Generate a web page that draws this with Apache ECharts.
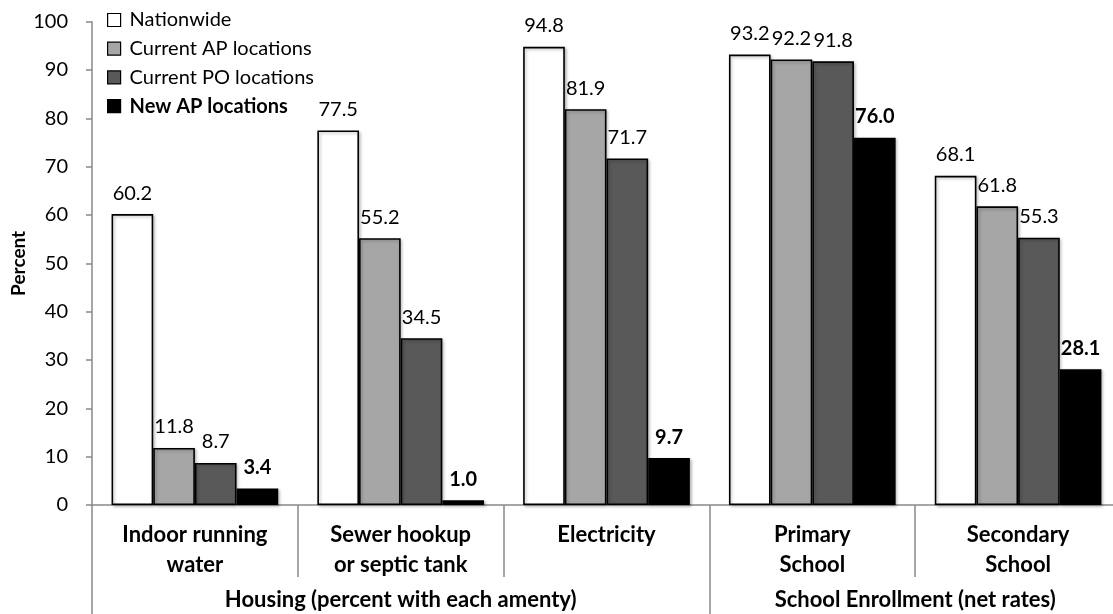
<!DOCTYPE html>
<html>
<head>
<meta charset="utf-8">
<title>Housing amenities and school enrollment</title>
<script src="https://cdn.jsdelivr.net/npm/echarts@6/dist/echarts.min.js"></script>
<style>
  html, body { margin: 0; padding: 0; background: #fff; }
  #chart { width: 1113px; height: 614px; }
</style>
</head>
<body>
<div id="chart"></div>
<script>
// Categories and groups shown on the two-level x axis
const categories = [
  'Indoor running\nwater',
  'Sewer hookup\nor septic tank',
  'Electricity',
  'Primary\nSchool',
  'Secondary\nSchool'
];
const groupNames = ['Housing (percent with each amenty)', 'School Enrollment (net rates)'];
const groupSpans = [3, 2];

// Series values (percent)
const nationwide = [60.2, 77.5, 94.8, 93.2, 68.1];
const currentAP = [11.8, 55.2, 81.9, 92.2, 61.8];
const currentPO = [8.7, 34.5, 71.7, 91.8, 55.3];
const newAP = [3.4, 1.0, 9.7, 76.0, 28.1];

const seriesNames = ['Nationwide', 'Current AP locations', 'Current PO locations', 'New AP locations'];
const seriesValues = [nationwide, currentAP, currentPO, newAP];
const seriesColors = ['#ffffff', '#a6a6a6', '#595959', '#000000'];
const boldSeries = [false, false, false, true];

const yTicks = [0, 10, 20, 30, 40, 50, 60, 70, 80, 90, 100];

const FONT = 'Lato, "Open Sans", sans-serif';
const AXIS_GRAY = '#898989';
const TEXT_SIZE = 20;
const BOLD_SIZE = 22;

// Group boundaries and centres in category units
const groupEdges = [0];
const groupMids = [];
groupSpans.forEach((s, i) => {
  groupMids.push(groupEdges[i] + s / 2);
  groupEdges.push(groupEdges[i] + s);
});

const chart = echarts.init(document.getElementById('chart'), null, { renderer: 'canvas' });

const series = seriesValues.map((vals, i) => ({
  name: seriesNames[i],
  type: 'bar',
  xAxisIndex: 0,
  yAxisIndex: 0,
  data: vals,
  barGap: '0%',
  barCategoryGap: '19%',
  itemStyle: {
    color: seriesColors[i],
    borderColor: '#000',
    borderWidth: 1.6,
    shadowColor: 'rgba(0,0,0,0.25)',
    shadowBlur: 3,
    shadowOffsetX: 1.5,
    shadowOffsetY: 1.5
  },
  label: {
    show: true,
    position: 'top',
    distance: 11,
    formatter: p => p.value.toFixed(1),
    fontFamily: FONT,
    fontSize: TEXT_SIZE,
    fontWeight: boldSeries[i] ? 'bold' : 'normal',
    color: '#000'
  },
  emphasis: { disabled: true }
}));

chart.setOption({
  animation: false,
  backgroundColor: '#fff',
  textStyle: { fontFamily: FONT },
  grid: {
    left: 92, right: -8, top: 21.7, bottom: 109,
    containLabel: false,
    outerBoundsMode: 'none'
  },
  legend: {
    orient: 'vertical',
    left: 102,
    top: 5,
    itemWidth: 13,
    itemHeight: 13,
    itemGap: 8.7,
    icon: 'rect',
    data: seriesNames.map((n, i) => ({
      name: n,
      textStyle: { fontWeight: boldSeries[i] ? 'bold' : 'normal' }
    })),
    textStyle: {
      fontFamily: FONT,
      fontSize: TEXT_SIZE,
      color: '#000',
      lineHeight: 20,
      padding: [0, 0, 0, 4]
    },
    itemStyle: { borderColor: '#000', borderWidth: 1.2, shadowBlur: 0, shadowOffsetX: 0, shadowOffsetY: 0 }
  },
  xAxis: [
    {
      type: 'category',
      data: categories,
      position: 'bottom',
      axisLine: { lineStyle: { color: AXIS_GRAY, width: 1.5 } },
      axisTick: { show: true, interval: 0, alignWithLabel: false, length: 72, lineStyle: { color: AXIS_GRAY, width: 1.5 } },
      axisLabel: {
        interval: 0,
        margin: 15,
        fontFamily: FONT,
        fontSize: BOLD_SIZE,
        fontWeight: 'bold',
        lineHeight: 30,
        color: '#000'
      },
      splitLine: { show: false }
    },
    {
      type: 'value',
      position: 'bottom',
      min: 0,
      max: categories.length,
      axisLine: { show: false },
      axisTick: { show: true, customValues: groupEdges, length: 109, lineStyle: { color: AXIS_GRAY, width: 1.5 } },
      axisLabel: {
        show: true,
        customValues: groupMids,
        margin: 84,
        fontFamily: FONT,
        fontSize: BOLD_SIZE,
        fontWeight: 'bold',
        color: '#000',
        formatter: v => groupNames[groupMids.indexOf(v)] || ''
      },
      splitLine: { show: false }
    }
  ],
  yAxis: {
    type: 'value',
    min: 0,
    max: 100,
    interval: 10,
    name: 'Percent',
    nameLocation: 'middle',
    nameGap: 64,
    nameMoveOverlap: false,
    nameTextStyle: { fontFamily: FONT, fontSize: 19, fontWeight: 'bold', color: '#000' },
    axisLine: { show: true, lineStyle: { color: AXIS_GRAY, width: 1.5 } },
    axisTick: { show: true, inside: false, length: 6, lineStyle: { color: AXIS_GRAY, width: 1.5 } },
    axisLabel: {
      margin: 24,
      fontFamily: FONT,
      fontSize: TEXT_SIZE,
      color: '#000',
      customValues: yTicks
    },
    splitLine: { show: false }
  },
  series: series
});
</script>
</body>
</html>
